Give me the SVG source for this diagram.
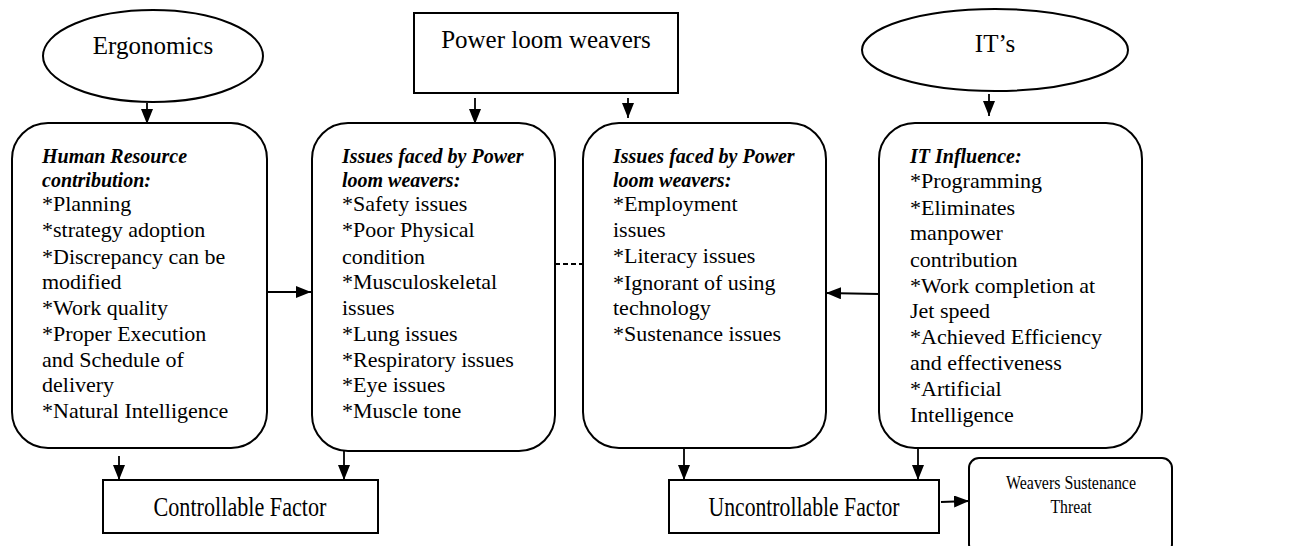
<svg xmlns="http://www.w3.org/2000/svg" width="1309" height="546" viewBox="0 0 1309 546">
<defs>
<style>
.shape{fill:#fff;stroke:#000;stroke-width:2}
.edge{fill:none;stroke:#000;stroke-width:1.8}
.t{font-family:"Liberation Serif","Times New Roman",serif;fill:#000}
.r{font-size:22px}
.b{font-size:20px;font-weight:bold;font-style:italic}
.h{font-size:25px}
</style>
<marker id="ah" viewBox="0 0 15 12" refX="15" refY="6" markerWidth="15" markerHeight="12" markerUnits="userSpaceOnUse" orient="auto">
<path d="M0,0 L15,6 L0,12 Z" fill="#000"/>
</marker>
</defs>
<rect width="1309" height="546" fill="#fff"/>

<g id="connectors">
<line class="edge" x1="147" y1="103" x2="147" y2="124" marker-end="url(#ah)"/>
<line class="edge" x1="475" y1="98" x2="475" y2="124" marker-end="url(#ah)"/>
<line class="edge" x1="628" y1="98" x2="628" y2="118" marker-end="url(#ah)"/>
<line class="edge" x1="989" y1="94" x2="989" y2="116" marker-end="url(#ah)"/>
<line class="edge" x1="267" y1="292" x2="311" y2="292" marker-end="url(#ah)"/>
<line class="edge" x1="555" y1="264" x2="583" y2="264" stroke-dasharray="5,3"/>
<line class="edge" x1="879" y1="294" x2="826" y2="293" marker-end="url(#ah)"/>
<line class="edge" x1="119" y1="456" x2="119" y2="480" marker-end="url(#ah)"/>
<line class="edge" x1="344" y1="450" x2="344" y2="480" marker-end="url(#ah)"/>
<line class="edge" x1="684" y1="448" x2="684" y2="480" marker-end="url(#ah)"/>
<line class="edge" x1="918" y1="445" x2="918" y2="480" marker-end="url(#ah)"/>
<line class="edge" x1="941" y1="502" x2="969" y2="501" marker-end="url(#ah)"/>
</g>

<g id="ergonomics">
<ellipse class="shape" cx="153" cy="56" rx="110" ry="46"/>
<text class="t h" x="153" y="54" text-anchor="middle">Ergonomics</text>
</g>

<g id="power-loom-weavers">
<rect class="shape" x="414" y="13" width="264" height="80"/>
<text class="t h" x="546" y="48" text-anchor="middle">Power loom weavers</text>
</g>

<g id="its">
<ellipse class="shape" cx="995" cy="50" rx="133" ry="41"/>
<text class="t h" x="995" y="52" text-anchor="middle">IT’s</text>
</g>

<g id="human-resource">
<rect class="shape" x="12" y="123" width="255" height="325" rx="36" ry="36"/>
<text class="t b" x="42" y="163">Human Resource</text>
<text class="t b" x="42" y="187">contribution:</text>
<text class="t r" x="42" y="211">*Planning</text>
<text class="t r" x="42" y="237">*strategy adoption</text>
<text class="t r" x="42" y="264">*Discrepancy can be</text>
<text class="t r" x="42" y="289">modified</text>
<text class="t r" x="42" y="315">*Work quality</text>
<text class="t r" x="42" y="341">*Proper Execution</text>
<text class="t r" x="42" y="367">and Schedule of</text>
<text class="t r" x="42" y="392">delivery</text>
<text class="t r" x="42" y="418">*Natural Intelligence</text>
</g>

<g id="issues-controllable">
<rect class="shape" x="312" y="123" width="243" height="328" rx="36" ry="36"/>
<text class="t b" x="342" y="163">Issues faced by Power</text>
<text class="t b" x="342" y="187">loom weavers:</text>
<text class="t r" x="342" y="211">*Safety issues</text>
<text class="t r" x="342" y="237">*Poor Physical</text>
<text class="t r" x="342" y="264">condition</text>
<text class="t r" x="342" y="289">*Musculoskeletal</text>
<text class="t r" x="342" y="315">issues</text>
<text class="t r" x="342" y="341">*Lung issues</text>
<text class="t r" x="342" y="367">*Respiratory issues</text>
<text class="t r" x="342" y="392">*Eye issues</text>
<text class="t r" x="342" y="418">*Muscle tone</text>
</g>

<g id="issues-uncontrollable">
<rect class="shape" x="583" y="123" width="243" height="325" rx="36" ry="36"/>
<text class="t b" x="613" y="163">Issues faced by Power</text>
<text class="t b" x="613" y="187">loom weavers:</text>
<text class="t r" x="613" y="211">*Employment</text>
<text class="t r" x="613" y="237">issues</text>
<text class="t r" x="613" y="263">*Literacy issues</text>
<text class="t r" x="613" y="290">*Ignorant of using</text>
<text class="t r" x="613" y="315">technology</text>
<text class="t r" x="613" y="341">*Sustenance issues</text>
</g>

<g id="it-influence">
<rect class="shape" x="879" y="123" width="263" height="325" rx="36" ry="36"/>
<text class="t b" x="910" y="163">IT Influence:</text>
<text class="t r" x="910" y="188">*Programming</text>
<text class="t r" x="910" y="215">*Eliminates</text>
<text class="t r" x="910" y="240">manpower</text>
<text class="t r" x="910" y="267">contribution</text>
<text class="t r" x="910" y="293">*Work completion at</text>
<text class="t r" x="910" y="318">Jet speed</text>
<text class="t r" x="910" y="344">*Achieved Efficiency</text>
<text class="t r" x="910" y="370">and effectiveness</text>
<text class="t r" x="910" y="396">*Artificial</text>
<text class="t r" x="910" y="422">Intelligence</text>
</g>

<g id="controllable-factor">
<rect class="shape" x="103" y="480" width="275" height="53"/>
<text class="t" x="240" y="516" font-size="27" text-anchor="middle" textLength="173" lengthAdjust="spacingAndGlyphs">Controllable Factor</text>
</g>

<g id="uncontrollable-factor">
<rect class="shape" x="669" y="480" width="270" height="53"/>
<text class="t" x="804" y="516" font-size="27" text-anchor="middle" textLength="191" lengthAdjust="spacingAndGlyphs">Uncontrollable Factor</text>
</g>

<g id="weavers-sustenance-threat">
<rect class="shape" x="969" y="458" width="203" height="96" rx="10" ry="10"/>
<text class="t" x="1071" y="489" font-size="18" text-anchor="middle" textLength="130" lengthAdjust="spacingAndGlyphs">Weavers Sustenance</text>
<text class="t" x="1071" y="513" font-size="18" text-anchor="middle" textLength="41" lengthAdjust="spacingAndGlyphs">Threat</text>
</g>
</svg>
